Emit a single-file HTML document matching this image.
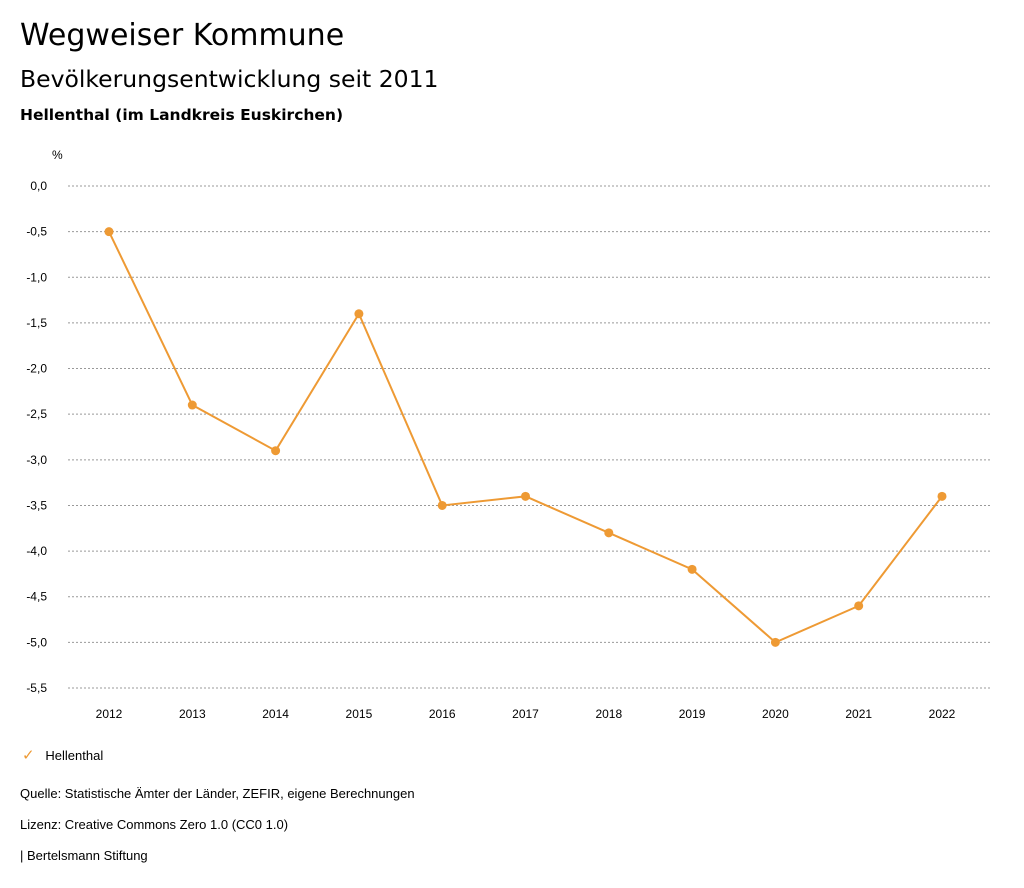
<!DOCTYPE html>
<html><head><meta charset="utf-8"><style>
body{margin:0;background:#fff;font-family:"Liberation Sans",sans-serif;color:#000;width:1024px;height:888px;overflow:hidden;position:relative}
.t{position:absolute;white-space:nowrap}
.h{font-family:"DejaVu Sans","Liberation Sans",sans-serif}
</style></head><body>
<div class="t h" style="left:20px;top:18px;font-size:30px">Wegweiser Kommune</div>
<div class="t h" style="left:20px;top:65px;font-size:23.5px">Bevölkerungsentwicklung seit 2011</div>
<div class="t h" style="left:20px;top:106px;font-size:15.5px;font-weight:bold">Hellenthal (im Landkreis Euskirchen)</div>
<svg id="chart" width="1024" height="740" style="position:absolute;left:0;top:0"></svg>
<div class="t" style="left:22px;top:746px;font-size:13px"><span style="color:#ee9a34;font-size:15px">✓</span>&nbsp;&nbsp;&nbsp;Hellenthal</div>
<div class="t" style="left:20px;top:786px;font-size:13px">Quelle: Statistische Ämter der Länder, ZEFIR, eigene Berechnungen</div>
<div class="t" style="left:20px;top:817px;font-size:13px">Lizenz: Creative Commons Zero 1.0 (CC0 1.0)</div>
<div class="t" style="left:20px;top:848px;font-size:13px">| Bertelsmann Stiftung</div>
<script>
const categories=[2012,2013,2014,2015,2016,2017,2018,2019,2020,2021,2022];
const values=[-0.5,-2.4,-2.9,-1.4,-3.5,-3.4,-3.8,-4.2,-5.0,-4.6,-3.4];
const yTicks=[0,-0.5,-1,-1.5,-2,-2.5,-3,-3.5,-4,-4.5,-5,-5.5];
const svg=document.getElementById('chart');
const NS='http://www.w3.org/2000/svg';
function y(v){return 186+(0-v)/5.5*502;}
function x(i){return 109+i*(942-109)/(categories.length-1);}
function mk(t,a){const e=document.createElementNS(NS,t);for(const k in a)e.setAttribute(k,a[k]);svg.appendChild(e);return e;}
const u=mk('text',{x:52,y:159,'font-size':12,'font-family':'Liberation Sans'});u.textContent='%';


yTicks.forEach(v=>{
 const l=mk('line',{x1:68,x2:990,y1:y(v),y2:y(v),stroke:'#999','stroke-dasharray':'2,2','stroke-width':1});
 
 
 const t=mk('text',{x:47,y:y(v)+4,'font-size':12,'text-anchor':'end','font-family':'Liberation Sans'});
 t.textContent=v.toFixed(1).replace('.',',');
 
 
});
categories.forEach((c,i)=>{
 const t=mk('text',{x:x(i),y:718,'font-size':12,'text-anchor':'middle','font-family':'Liberation Sans'});
 t.textContent=c;
 
 
});
const p=mk('polyline',{points:values.map((v,i)=>x(i)+','+y(v)).join(' '),fill:'none',stroke:'#ee9a34','stroke-width':2});


values.forEach((v,i)=>{
 const c=mk('circle',{cx:x(i),cy:y(v),r:4.5,fill:'#ee9a34'});
 
 
});
</script>
</body></html>
